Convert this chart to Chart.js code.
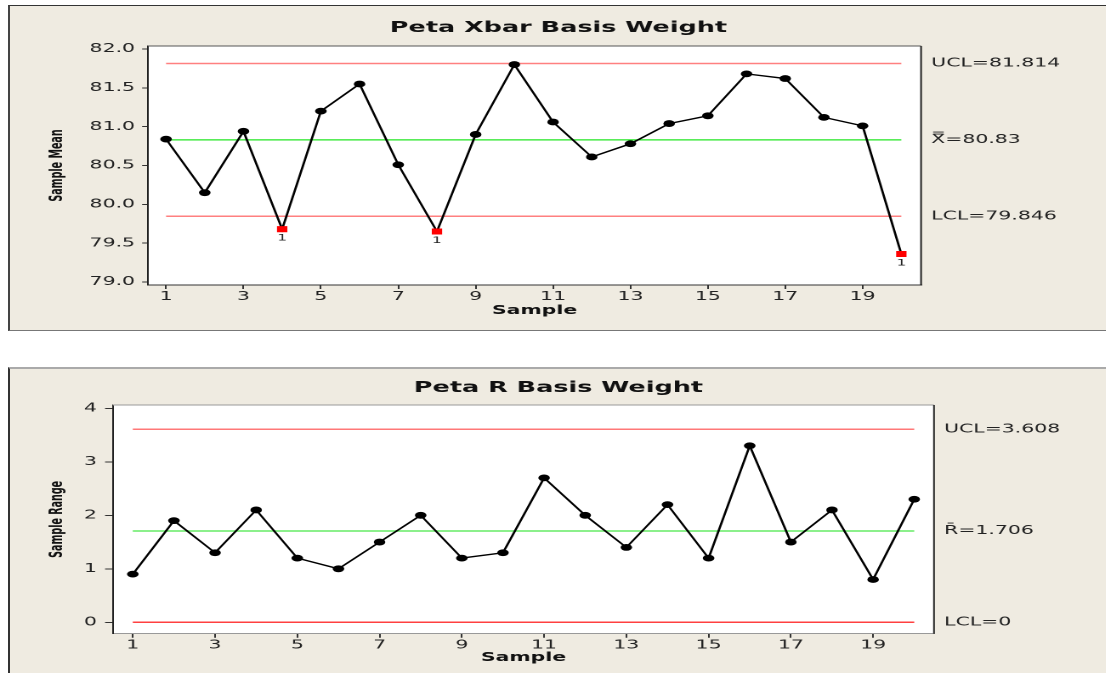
<!DOCTYPE html>
<html>
<head>
<meta charset="utf-8">
<script src="https://cdn.jsdelivr.net/npm/chart.js@4.4.1/dist/chart.umd.min.js"></script>
<style>
  body { margin: 0; width: 1106px; height: 673px; overflow: hidden; background: #fff; position: relative; }
  .panel { position: absolute; left: 8px; width: 1110px; background: #efebe1; }
  #panel1 { top: 5px; height: 324px; border-left: 2px solid #444; border-top: 1px solid #333; border-bottom: 1px solid #777; }
  #panel2 { top: 367px; height: 320px; border-left: 2px solid #333; border-top: 2px solid #aaa; }
  /* the reference is a Minitab chart stretched sideways, so the canvas is too */
  .wrap { position: absolute; left: 0; width: 651px; transform: scaleX(1.7); transform-origin: 0 0; }
  #wrap1 { top: 0; height: 330px; }
  #wrap2 { top: 350px; height: 323px; }
</style>
</head>
<body>
<div class="panel" id="panel1"></div>
<div class="panel" id="panel2"></div>
<div class="wrap" id="wrap1"><canvas id="xbarChart"></canvas></div>
<div class="wrap" id="wrap2"><canvas id="rangeChart"></canvas></div>
<script>
// data
const samples = [1, 2, 3, 4, 5, 6, 7, 8, 9, 10, 11, 12, 13, 14, 15, 16, 17, 18, 19, 20];
const sampleMeans = [80.84, 80.15, 80.94, 79.68, 81.20, 81.55, 80.51, 79.65, 80.90, 81.80,
                     81.06, 80.61, 80.78, 81.04, 81.14, 81.68, 81.62, 81.12, 81.01, 79.36];
const sampleRanges = [0.9, 1.9, 1.3, 2.1, 1.2, 1.0, 1.5, 2.0, 1.2, 1.3,
                      2.7, 2.0, 1.4, 2.2, 1.2, 3.3, 1.5, 2.1, 0.8, 2.3];
const meanLimits = [81.814, 80.83, 79.846];   // UCL, centre, LCL
const rangeLimits = [3.608, 1.706, 0];
const meanLimitNames = ['UCL', 'X\u033F', 'LCL'];
const rangeLimitNames = ['UCL', 'R\u0304', 'LCL'];
const sampleTicks = [1, 3, 5, 7, 9, 11, 13, 15, 17, 19];
const meanTicks = [79.0, 79.5, 80.0, 80.5, 81.0, 81.5, 82.0];
const rangeTicks = [0, 1, 2, 3, 4];

Chart.defaults.font.family = '"DejaVu Sans", Verdana, sans-serif';
Chart.defaults.color = '#222';

const narrowFont = '"Liberation Sans Narrow", "DejaVu Sans Condensed", sans-serif';

const controlPlugin = {
  id: 'controlChart',
  beforeDraw(chart) {
    const {ctx, chartArea: a} = chart;
    ctx.save();
    ctx.fillStyle = '#fff';
    ctx.fillRect(a.left, a.top, a.width, a.height);
    ctx.restore();
  },
  beforeDatasetsDraw(chart, args, opts) {
    const {ctx, chartArea: a} = chart;
    ctx.save();
    ctx.lineWidth = 1;
    ctx.strokeStyle = opts.topColor;
    ctx.beginPath();
    ctx.moveTo(a.left, a.top);
    ctx.lineTo(a.right, a.top);
    ctx.stroke();
    ctx.strokeStyle = opts.rightColor;
    ctx.beginPath();
    ctx.moveTo(a.right, a.top);
    ctx.lineTo(a.right, a.bottom);
    ctx.stroke();
    ctx.restore();
  },
  afterDatasetsDraw(chart, args, opts) {
    // test 1 flag under points outside the limits
    const {ctx} = chart;
    const meta = chart.getDatasetMeta(0);
    ctx.save();
    ctx.font = '9px "DejaVu Sans"';
    ctx.fillStyle = '#222';
    ctx.textAlign = 'center';
    ctx.textBaseline = 'middle';
    meta.data.forEach((pt, i) => {
      const v = chart.data.datasets[0].data[i].y;
      if (v > opts.limits[0] || v < opts.limits[2]) ctx.fillText('1', pt.x, pt.y + 9);
    });
    ctx.restore();
  },
  afterDraw(chart, args, opts) {
    const {ctx, chartArea: a, scales} = chart;
    ctx.save();
    ctx.font = '12px "DejaVu Sans"';
    ctx.fillStyle = '#222';
    ctx.textAlign = 'left';
    ctx.textBaseline = 'middle';
    opts.limits.forEach((v, i) => {
      ctx.fillText(opts.names[i] + '=' + v, a.right + 6, scales.y.getPixelForValue(v));
    });
    ctx.restore();
  }
};

function limitLine(value, color, width) {
  return {
    data: [{x: samples[0], y: value}, {x: samples[samples.length - 1], y: value}],
    borderColor: color,
    borderWidth: width,
    pointRadius: 0
  };
}

function makeChart(id, c) {
  const out = v => v > c.limits[0] || v < c.limits[2];
  return new Chart(document.getElementById(id), {
    type: 'line',
    data: {
      datasets: [{
        data: samples.map((s, i) => ({x: s, y: c.values[i]})),
        borderColor: '#000',
        borderWidth: 1.4,
        pointStyle: ctx => out(ctx.raw.y) ? 'rect' : 'circle',
        pointRadius: ctx => out(ctx.raw.y) ? 4.3 : 3.4,
        pointBackgroundColor: ctx => out(ctx.raw.y) ? '#f00' : '#000',
        pointBorderWidth: 0
      },
        limitLine(c.limits[0], c.colors[0], c.widths[0]),
        limitLine(c.limits[1], c.colors[1], c.widths[1]),
        limitLine(c.limits[2], c.colors[2], c.widths[2])
      ]
    },
    options: {
      responsive: true,
      maintainAspectRatio: false,
      devicePixelRatio: 2,
      animation: false,
      layout: { padding: { left: 6, right: 0, top: 0, bottom: 0 } },
      plugins: {
        legend: { display: false },
        tooltip: { enabled: false },
        title: {
          display: true,
          text: c.title,
          color: '#111',
          font: { size: 15, weight: 'bold' },
          padding: c.titlePad
        },
        controlChart: {
          limits: c.limits,
          names: c.names,
          topColor: c.frameTop,
          rightColor: '#222'
        }
      },
      scales: {
        x: {
          type: 'linear',
          min: c.xMin,
          max: c.xMax,
          afterBuildTicks: s => { s.ticks = sampleTicks.map(v => ({value: v})); },
          afterFit: s => { s.height = c.xHeight; },
          ticks: { font: { size: 12 }, padding: 0.5, color: '#222' },
          grid: { drawOnChartArea: false, tickLength: c.xTickLen, color: '#333' },
          border: { color: c.frameBottom, width: 1 },
          title: {
            display: true,
            text: 'Sample',
            color: '#111',
            font: { size: 12, weight: 'bold' },
            padding: { top: 0, bottom: c.xTitlePad }
          }
        },
        y: {
          min: c.yMin,
          max: c.yMax,
          afterBuildTicks: s => { s.ticks = c.yTicks.map(v => ({value: v})); },
          afterFit: s => { s.width = c.yWidth - 6; },
          ticks: {
            font: { size: 12 },
            padding: c.yTickPad,
            color: '#222',
            callback: v => v.toFixed(c.decimals)
          },
          grid: { drawOnChartArea: false, tickLength: c.yTickLen, color: '#333' },
          border: { color: '#222', width: 1 },
          title: {
            display: true,
            text: c.yTitle,
            color: '#111',
            font: { family: narrowFont, size: 10.6, weight: 'bold' },
            padding: { top: c.yTitlePad - 6, bottom: 0 }
          }
        },
        // empty right-hand strip that holds the limit labels
        labels: {
          position: 'right',
          display: true,
          afterFit: s => { s.width = c.padRight; },
          ticks: { display: false },
          grid: { display: false },
          border: { display: false }
        }
      }
    },
    plugins: [controlPlugin]
  });
}

const xbarChart = makeChart('xbarChart', {
  title: 'Peta Xbar Basis Weight',
  yTitle: 'Sample Mean',
  values: sampleMeans,
  limits: meanLimits,
  names: meanLimitNames,
  yTicks: meanTicks,
  decimals: 1,
  colors: ['#ff8080', '#22e622', '#ff8080'],
  widths: [1.5, 1.2, 1.5],
  xMin: 0.535, xMax: 20.51,
  yMin: 78.961, yMax: 82.039,
  padRight: 109.2,
  yWidth: 87.1,
  xHeight: 45,
  titlePad: { top: 19, bottom: 9 },
  xTitlePad: 12,
  yTitlePad: 27.2,
  yTickLen: 3.5, yTickPad: 4.2,
  xTickLen: 4,
  frameTop: '#555',
  frameBottom: '#333'
});

const rangeChart = makeChart('rangeChart', {
  title: 'Peta R Basis Weight',
  yTitle: 'Sample Range',
  values: sampleRanges,
  limits: rangeLimits,
  names: rangeLimitNames,
  yTicks: rangeTicks,
  decimals: 0,
  colors: ['#ff7878', '#8cf08c', '#ff4040'],
  widths: [1.5, 2, 1.5],
  xMin: 0.52, xMax: 20.48,
  yMin: -0.213, yMax: 4.062,
  padRight: 101.6,
  yWidth: 66.5,
  xHeight: 39.3,
  titlePad: { top: 29, bottom: 8 },
  xTitlePad: 7.8,
  yTitlePad: 27.2,
  yTickLen: 4.7, yTickPad: 4.8,
  xTickLen: 4,
  frameTop: '#999',
  frameBottom: '#999'
});
</script>
</body>
</html>
